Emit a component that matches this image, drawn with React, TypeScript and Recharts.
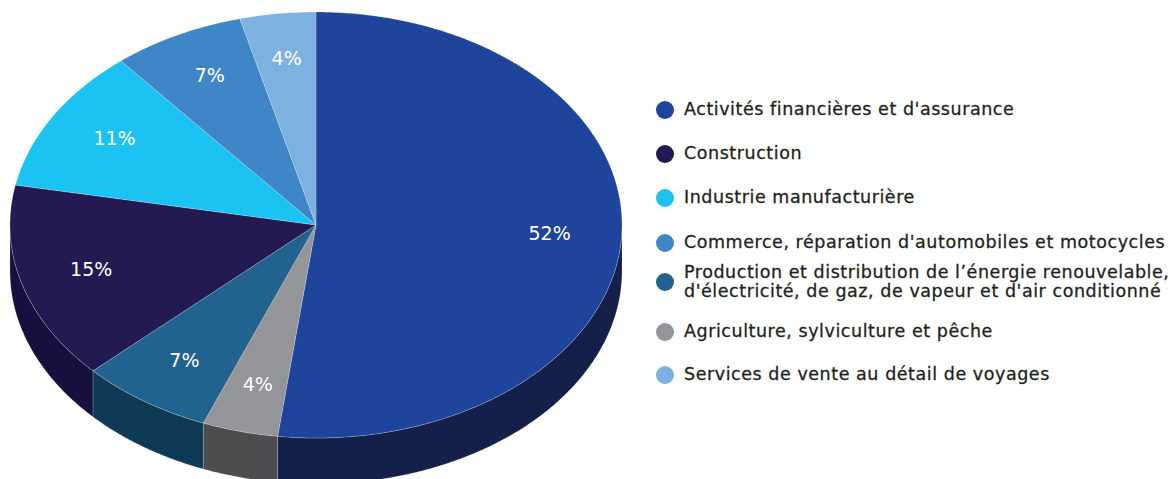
import React from 'react';
import { PieChart, Pie, Legend } from 'recharts';

const categories = [
  "Activités financières et d'assurance",
  'Agriculture, sylviculture et pêche',
  "Production et distribution de l’énergie renouvelable, d'électricité, de gaz, de vapeur et d'air conditionné",
  'Construction',
  'Industrie manufacturière',
  "Commerce, réparation d'automobiles et motocycles",
  'Services de vente au détail de voyages',
];
const values = [52, 4, 7, 15, 11, 7, 4];
const topColors = ['#1e449c', '#939598', '#22628e', '#241a52', '#1bc2f2', '#3f86c6', '#7db1df'];
const sideColors = ['#141f4a', '#4d4d4f', '#0e3a56', '#170f3e', '#0f6f8c', '#234d73', '#48698a'];
const legendOrder = [0, 3, 4, 5, 2, 1, 6];
const legendLines: string[][] = [
  ["Activités financières et d'assurance"],
  ['Agriculture, sylviculture et pêche'],
  ['Production et distribution de l’énergie renouvelable,', "d'électricité, de gaz, de vapeur et d'air conditionné"],
  ['Construction'],
  ['Industrie manufacturière'],
  ["Commerce, réparation d'automobiles et motocycles"],
  ['Services de vente au détail de voyages'],
];

const data = categories.map((name, i) => ({
  name,
  value: values[i],
  fill: topColors[i],
  side: sideColors[i],
}));

const RAD = Math.PI / 180;
const RY_RATIO = 213 / 306;
const DEPTH = 46;
const FONT = '"DejaVu Sans", sans-serif';

function ellipsePts(cx: number, cy: number, rx: number, ry: number, a0: number, a1: number, dy = 0) {
  const n = Math.max(2, Math.ceil(Math.abs(a1 - a0) / 0.5) + 1);
  const pts: string[] = [];
  for (let i = 0; i < n; i++) {
    const a = a0 + ((a1 - a0) * i) / (n - 1);
    pts.push(`${(cx + rx * Math.cos(a * RAD)).toFixed(2)},${(cy + dy - ry * Math.sin(a * RAD)).toFixed(2)}`);
  }
  return pts;
}

function Slice3D(props: any) {
  const { cx, cy, outerRadius, startAngle, endAngle, fill } = props;
  const side = props.payload?.side ?? props.side ?? '#000';
  const rx = outerRadius;
  const ry = outerRadius * RY_RATIO;
  const lo0 = Math.min(startAngle, endAngle);
  const hi0 = Math.max(startAngle, endAngle);
  const lo = Math.max(lo0, -180);
  const hi = Math.min(hi0, 0);
  let sidePath: string | null = null;
  if (hi > lo) {
    const topPts = ellipsePts(cx, cy, rx, ry, hi, lo);
    const botPts = ellipsePts(cx, cy, rx, ry, lo, hi, DEPTH);
    sidePath = `M${topPts.join(' L')} L${botPts.join(' L')} Z`;
  }
  const arc = ellipsePts(cx, cy, rx, ry, startAngle, endAngle);
  const topPath = `M${cx},${cy} L${arc.join(' L')} Z`;
  return (
    <g>
      {sidePath && (
        <path d={sidePath} fill={side} stroke="#ffffff" strokeOpacity={0.3} strokeWidth={0.6} />
      )}
      <path d={topPath} fill={fill} stroke="#ffffff" strokeOpacity={0.35} strokeWidth={0.6} />
    </g>
  );
}

function renderLabel(props: any) {
  const { cx, cy, midAngle, outerRadius, value } = props;
  const rx = outerRadius;
  const ry = outerRadius * RY_RATIO;
  const x = cx + 0.765 * rx * Math.cos(midAngle * RAD);
  const y = cy - 0.78 * ry * Math.sin(midAngle * RAD) - 2;
  return (
    <text
      x={x}
      y={y}
      fill="#ffffff"
      textAnchor="middle"
      dominantBaseline="central"
      style={{ fontFamily: FONT, fontSize: 19 }}
    >
      {`${value}%`}
    </text>
  );
}

const rowCenters = [110, 154, 198, 243, 282, 332, 375];

function LegendContent() {
  return (
    <div style={{ position: 'absolute', left: 0, top: 0, width: 1171, height: 479 }}>
      {legendOrder.map((idx, r) => {
        const lines = legendLines[idx];
        const lh = 19.5;
        const h = lines.length * lh;
        return (
          <div
            key={idx}
            style={{
              position: 'absolute',
              left: 656,
              top: rowCenters[r] - h / 2,
              height: h,
              display: 'flex',
              alignItems: 'center',
              whiteSpace: 'nowrap',
            }}
          >
            <div
              style={{
                width: 18,
                height: 18,
                borderRadius: 9,
                background: topColors[idx],
                marginRight: 10,
                flex: 'none',
              }}
            />
            <div
              style={{
                fontFamily: FONT,
                fontSize: 17.5,
                letterSpacing: 0.55,
                lineHeight: `${lh}px`,
                color: '#231f20',
                WebkitTextStroke: '0.3px #231f20',
              }}
            >
              {lines.map((l, k) => (
                <div key={k}>{l}</div>
              ))}
            </div>
          </div>
        );
      })}
    </div>
  );
}

export default function App() {
  return (
    <div style={{ position: 'absolute', left: 0, top: 0, width: 1171, height: 479, background: '#fff' }}>
      <PieChart width={1171} height={479} margin={{ top: 0, right: 0, bottom: 0, left: 0 }}>
        <Pie
          data={data}
          dataKey="value"
          nameKey="name"
          cx={316}
          cy={225}
          outerRadius={306}
          startAngle={90}
          endAngle={-270}
          isAnimationActive={false}
          shape={Slice3D}
          activeShape={Slice3D}
          label={renderLabel}
          labelLine={false}
        />
        <Legend
          content={<LegendContent />}
          wrapperStyle={{ position: 'absolute', left: 0, top: 0, width: 1171, height: 479 }}
        />
      </PieChart>
    </div>
  );
}
